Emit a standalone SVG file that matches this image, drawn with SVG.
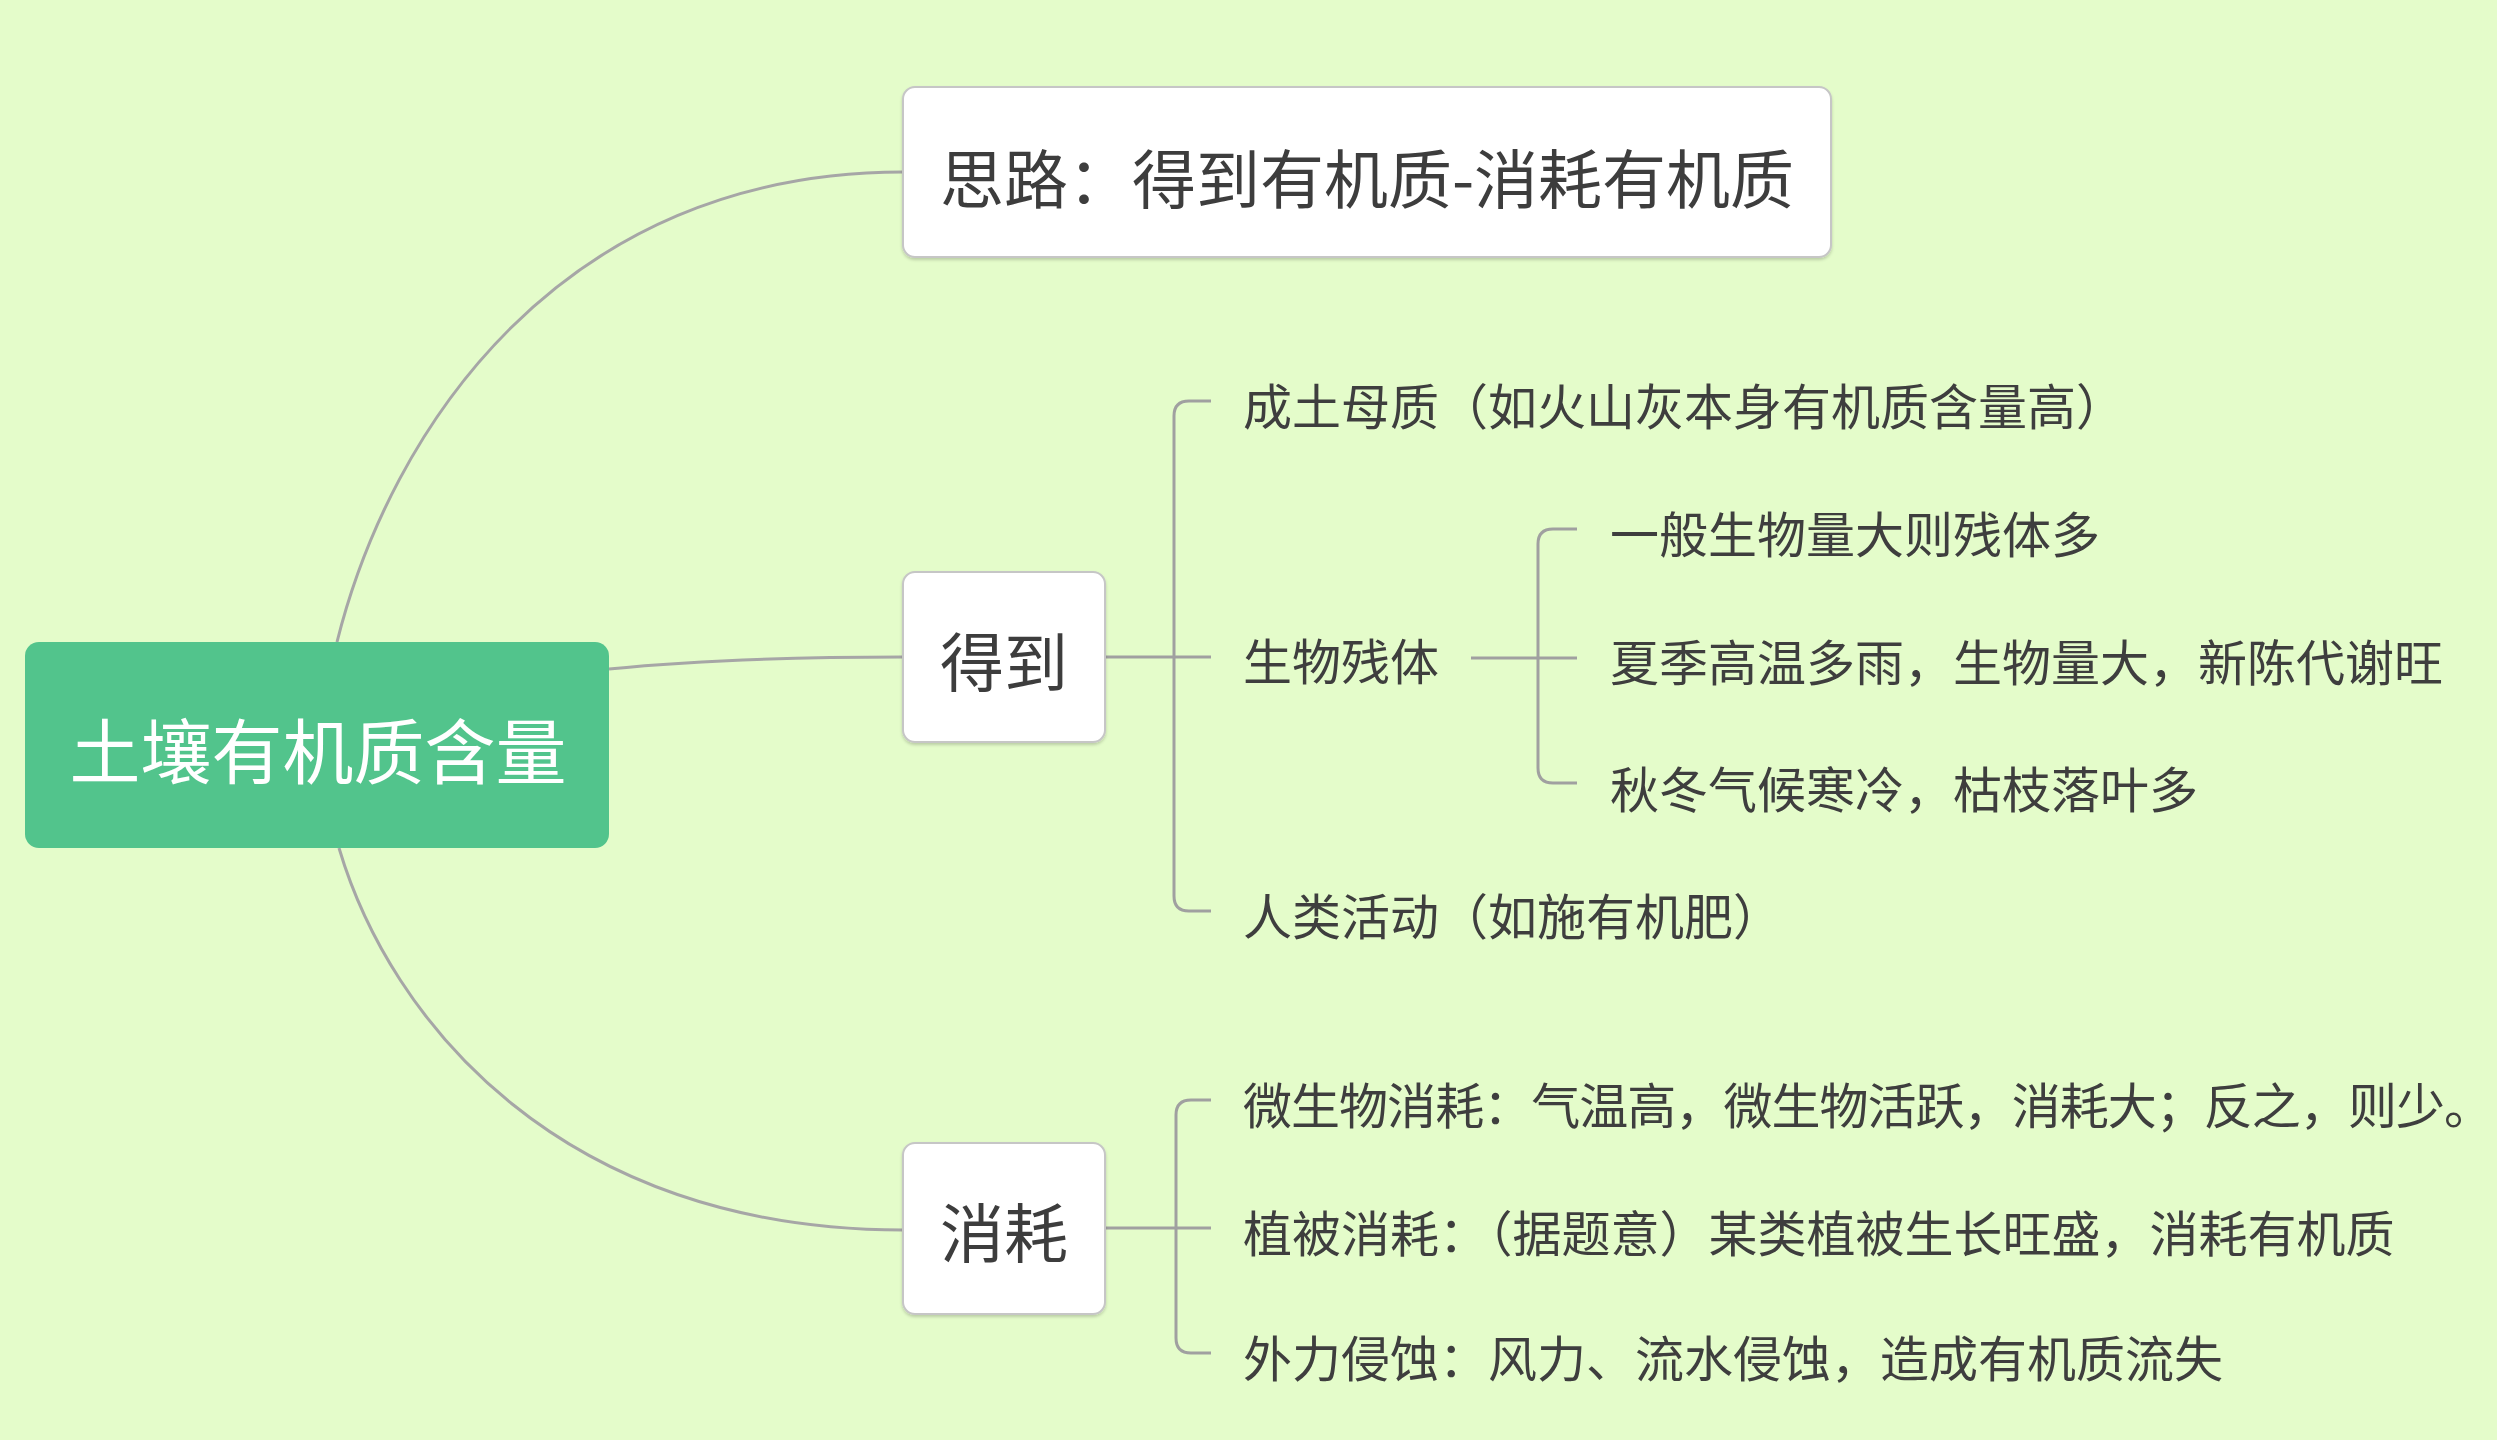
<svg xmlns="http://www.w3.org/2000/svg" width="2497" height="1440" viewBox="0 0 2497 1440">
<style>
.bg{fill:#E4FCCA}
.conn{fill:none;stroke:#A6A6A6;stroke-width:3}
.br{fill:none;stroke:#A0A0A0;stroke-width:3}
.box{fill:#FFFFFF;stroke:#C6C6C6;stroke-width:2}
.root{fill:#52C48C}
.t{font-family:"Noto Sans CJK SC","Noto Sans",sans-serif;fill:#3E3E3E;dominant-baseline:central}
.big{font-size:64px;text-anchor:middle}
.rt{font-size:71px;fill:#FFFFFF;text-anchor:middle}
.leaf{font-size:49px;text-anchor:start}
</style>
<defs>
<filter id="sh" x="-10%" y="-10%" width="120%" height="130%">
<feDropShadow dx="0" dy="2" stdDeviation="1.5" flood-color="#000000" flood-opacity="0.18"/>
</filter>
</defs>
<rect class="bg" x="0" y="0" width="2497" height="1440"/>
<g id="connectors">
<path class="conn" d="M337 642 C390 430 560 172 903 172"/>
<path class="conn" d="M609 669 C700 660 800 657 903 657"/>
<path class="conn" d="M339 848 C390 1020 560 1230 903 1230"/>
<path class="br" d="M1105 657 H1211"/>
<path class="br" d="M1211 401 H1189 Q1174 401 1174 416 V896 Q1174 911 1189 911 H1211"/>
<path class="br" d="M1471 658 H1577"/>
<path class="br" d="M1577 529 H1553 Q1538 529 1538 544 V768 Q1538 783 1553 783 H1577"/>
<path class="br" d="M1105 1228 H1211"/>
<path class="br" d="M1211 1100 H1191 Q1176 1100 1176 1115 V1338 Q1176 1353 1191 1353 H1211"/>
</g>
<g id="node-root">
<rect class="root" x="25" y="642" width="584" height="206" rx="14"/>
<text class="t rt" x="318" y="747">土壤有机质含量</text>
</g>
<g id="node-idea" filter="url(#sh)">
<rect class="box" x="903" y="87" width="928" height="170" rx="12"/>
<text class="t big" x="1367" y="175">思路：得到有机质-消耗有机质</text>
</g>
<g id="node-get" filter="url(#sh)">
<rect class="box" x="903" y="572" width="202" height="170" rx="12"/>
<text class="t big" x="1004" y="658">得到</text>
</g>
<g id="node-consume" filter="url(#sh)">
<rect class="box" x="903" y="1143" width="202" height="171" rx="12"/>
<text class="t big" x="1004" y="1229">消耗</text>
</g>
<g id="node-parent-material"><text class="t leaf" x="1243" y="403">成土母质（如火山灰本身有机质含量高）</text></g>
<g id="node-residue"><text class="t leaf" x="1243" y="658">生物残体</text></g>
<g id="node-human"><text class="t leaf" x="1243" y="913">人类活动（如施有机肥）</text></g>
<g id="node-residue-1"><text class="t leaf" x="1610" y="531">一般生物量大则残体多</text></g>
<g id="node-residue-2"><text class="t leaf" x="1610" y="659">夏季高温多雨，生物量大，新陈代谢旺</text></g>
<g id="node-residue-3"><text class="t leaf" x="1610" y="786">秋冬气候寒冷，枯枝落叶多</text></g>
<g id="node-microbe"><text class="t leaf" x="1243" y="1102" textLength="1250" lengthAdjust="spacing">微生物消耗：气温高，微生物活跃，消耗大；反之，则少。</text></g>
<g id="node-vegetation"><text class="t leaf" x="1243" y="1230">植被消耗：（据题意）某类植被生长旺盛，消耗有机质</text></g>
<g id="node-erosion"><text class="t leaf" x="1243" y="1355">外力侵蚀：风力、流水侵蚀，造成有机质流失</text></g>
</svg>
